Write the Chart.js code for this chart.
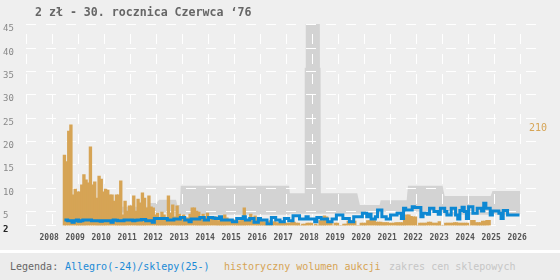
<!DOCTYPE html>
<html>
<head>
<meta charset="utf-8">
<script src="https://cdn.jsdelivr.net/npm/chart.js@4/dist/chart.umd.min.js"></script>
<style>
  html, body { margin: 0; padding: 0; background: #efefef; }
  #wrap { position: relative; width: 560px; height: 280px; overflow: hidden; }
  #title { position: absolute; left: 35px; top: 5px; line-height: 14px;
           font: bold 11.6px "DejaVu Sans Mono", monospace; color: #666; white-space: pre; }
  #legend { position: absolute; left: 0; top: 250px; width: 560px; height: 27px;
            border-top: 3px solid #fff; background: #ececec;
            font: 10px "DejaVu Sans Mono", monospace; }
  #legend span { position: absolute; top: 8px; line-height: 12px; white-space: pre; }
</style>
</head>
<body>
<div id="wrap">
  <canvas id="chart" width="560" height="250"></canvas>
  <div id="title">2 zł - 30. rocznica Czerwca ‘76</div>
  <div id="legend">
    <span style="left:10px;color:#666">Legenda:</span>
    <span style="left:65px;color:#1a8ad6">Allegro(-24)/sklepy(25-)</span>
    <span style="left:224px;color:#d6a455">historyczny wolumen aukcji</span>
    <span style="left:389px;color:#c6c6c6">zakres cen sklepowych</span>
  </div>
</div>
<script>
// ── dane: miesiące od 2008-12 ──
const startYear  = 2008;
const startMonth = 12;

const yearTicks  = [2008, 2009, 2010, 2011, 2012, 2013, 2014, 2015, 2016, 2017,
                    2018, 2019, 2020, 2021, 2022, 2023, 2024, 2025, 2026];
const priceTicks = [2, 5, 10, 15, 20, 25, 30, 35, 40, 45];
const volumeMaxLabel = 210;

// historyczny wolumen aukcji (szt. / miesiąc)
const volume = [
    147,
    133, 197, 210, 64, 76, 70, 70, 85, 106, 95, 89, 164,   // 2009
    85, 91, 57, 103, 97, 70, 76, 74, 64, 64, 51, 64,       // 2010
    64, 93, 22, 51, 30, 41, 41, 62, 30, 55, 47, 68,        // 2011
    57, 37, 62, 39, 37, 22, 26, 16, 28, 22, 16, 62,        // 2012
    26, 43, 18, 41, 24, 17, 22, 16, 16, 24, 37, 37,        // 2013
    30, 28, 16, 24, 18, 26, 16, 18, 12, 18, 10, 12,        // 2014
    10, 22, 16, 10, 8, 12, 10, 8, 10, 12, 37, 10,          // 2015
    12, 24, 10, 20, 12, 8, 10, 8, 6, 8, 10, 6,             // 2016
    8, 6, 5, 6, 5, 5, 5, 5, 7, 7, 5, 5,                    // 2017
    0, 3, 3, 5, 5, 5, 0, 3, 0, 10, 10, 20,                 // 2018
    18, 6, 6, 0, 5, 5, 0, 0, 3, 3, 9, 10,                  // 2019
    8, 9, 0, 0, 5, 5, 5, 10, 10, 10, 10, 7,                // 2020
    7, 7, 6, 6, 6, 5, 5, 5, 6, 6, 6, 6,                    // 2021
    15, 22, 22, 19, 18, 18, 0, 5, 5, 5, 5, 7,              // 2022
    7, 5, 5, 5, 8, 0, 0, 5, 5, 5, 5, 6,                    // 2023
    6, 5, 5, 5, 5, 5, 0, 11, 11, 6, 6, 6,                  // 2024
    9, 9, 11, 11                                           // 2025
];

// cena Allegro (zł)
const allegro = [
    3.2,
    3.2, 3.0, 3.0, 2.7, 3.0, 3.2, 2.9, 3.0, 3.2, 3.2, 3.2, 3.2,       // 2009
    3.0, 3.0, 3.0, 3.0, 2.9, 3.0, 3.0, 3.0, 3.0, 2.7, 3.2, 3.1,       // 2010
    3.0, 3.0, 3.0, 3.2, 3.2, 3.2, 3.2, 3.0, 3.1, 3.2, 3.2, 3.3,       // 2011
    3.3, 3.0, 3.0, 3.0, 2.7, 3.5, 3.5, 3.5, 3.5, 3.5, 3.5, 3.2,       // 2012
    3.2, 3.2, 3.4, 3.4, 3.4, 3.7, 3.7, 3.2, 3.2, 2.8, 3.4, 3.4,       // 2013
    3.4, 3.4, 3.7, 3.7, 3.2, 3.2, 3.7, 3.7, 3.6, 3.5, 3.5, 3.9,       // 2014
    3.2, 3.2, 3.2, 3.2, 3.2, 2.8, 2.8, 3.5, 3.5, 3.5, 3.9, 3.2,       // 2015
    3.2, 3.5, 3.5, 2.7, 2.7, 3.5, 3.2, 3.2, 3.2, 2.3, 2.3, 3.7,       // 2016
    3.7, 3.2, 3.2, 2.8, 2.8, 3.5, 3.5, 3.0, 3.0, 4.1, 4.1, 4.1,       // 2017
    3.4, 3.4, 3.4, 3.9, 3.4, 3.4, 3.4, 2.8, 3.7, 3.7, 3.4, 3.4,       // 2018
    3.4, 2.8, 2.8, 3.4, 3.4, 4.25, 4.25, 4.25, 3.5, 3.5, 3.5, 2.8,    // 2019
    2.8, 3.9, 3.9, 3.9, 3.9, 4.6, 4.6, 3.9, 4.4, 3.4, 3.4, 3.9,       // 2020
    5.3, 5.3, 3.9, 3.9, 3.4, 3.4, 4.25, 4.25, 4.25, 4.6, 4.6, 3.5,    // 2021
    5.7, 5.3, 5.3, 5.3, 6.0, 5.85, 5.85, 5.85, 3.9, 4.6, 4.6, 4.4,    // 2022
    5.7, 5.7, 5.0, 5.0, 4.4, 5.7, 5.7, 5.0, 4.25, 4.25, 5.7, 5.7,     // 2023
    4.25, 3.4, 5.2, 5.9, 5.0, 3.5, 6.0, 6.0, 4.6, 4.6, 5.7, 5.7,      // 2024
    5.1, 6.75, 5.7, 5.7, 4.25, 5.1, 5.1, 5.1, 4.6, 3.5, 5.2, 5.2,     // 2025
    4.25, 4.25, 4.25, 4.25, 4.25, 4.25                                // 2026
];

// zakres cen sklepowych (rok dziesiętny, min, max)
const storeYears = [2011.15, 2012.2, 2012.25, 2012.5, 2012.6, 2013.25, 2013.3, 2013.4, 2013.43,
                    2017.6, 2017.63, 2018.19, 2018.2, 2018.235, 2018.24, 2018.78, 2018.785,
                    2018.81, 2018.82, 2020.22, 2020.32, 2021.08, 2021.12, 2022.12, 2022.17,
                    2023.5, 2023.58, 2025.35, 2025.42, 2026.48];
const storeMin   = [4.8, 4.8, 4.8, 4.8, 4.8, 4.8, 4.8, 4.5, 4.3,
                    4.3, 4.5, 4.5, 4.5, 4.5, 4.5, 4.5, 4.5,
                    4.5, 4.5, 4.5, 4.5, 4.5, 5.0, 5.0, 5.0,
                    5.0, 4.3, 4.3, 4.3, 4.3];
const storeMax   = [6.0, 6.0, 6.8, 6.8, 7.5, 7.5, 6.4, 6.4, 10.5,
                    10.5, 8.9, 8.9, 35.8, 35.8, 50, 50, 35.8,
                    35.8, 8.9, 8.9, 6.4, 6.4, 7.4, 7.4, 10.5,
                    10.5, 8.3, 8.3, 9.4, 9.4];

const FONT   = "'DejaVu Sans Mono', monospace";
const ORANGE = '#d6a455';
const BLUE   = '#0d88d3';
const BAND   = '#d3d3d3';

// środek miesiąca i jako rok dziesiętny
function monthX(i) {
    return startYear + (startMonth - 1 + 0.5 + i) / 12;
}

// siatka jeszcze raz nad pasmem sklepów (ale pod słupkami i linią)
const gridOverBand = {
    id: 'gridOverBand',
    afterDatasetDraw(chart, args) {
        if (args.index !== 3) return;
        chart.scales.x.drawGrid(chart.chartArea);
        chart.scales.y.drawGrid(chart.chartArea);
    }
};

// etykieta maks. wolumenu po prawej
const volumeLabel = {
    id: 'volumeLabel',
    afterDraw(chart) {
        const { ctx, chartArea } = chart;
        const y = chart.scales.yv.getPixelForValue(volumeMaxLabel);
        ctx.save();
        ctx.font = '10px ' + FONT;
        ctx.fillStyle = ORANGE;
        ctx.textAlign = 'right';
        ctx.textBaseline = 'middle';
        ctx.fillText(String(volumeMaxLabel), chartArea.right + 8, y + 4);
        ctx.restore();
    }
};

new Chart(document.getElementById('chart'), {
    type: 'bar',
    data: {
        datasets: [{
            type: 'line',
            label: 'Allegro',
            data: allegro.map((v, i) => ({ x: monthX(i), y: v })),
            borderColor: BLUE,
            borderWidth: 3,
            borderJoinStyle: 'miter',
            pointRadius: 0,
            stepped: 'middle',
            fill: false,
            yAxisID: 'y',
            order: 0
        }, {
            type: 'bar',
            label: 'wolumen',
            data: volume.map((v, i) => ({ x: monthX(i), y: v })),
            backgroundColor: ORANGE,
            borderWidth: 0,
            barThickness: 2.7,      // sąsiednie miesiące bez szpar
            yAxisID: 'yv',
            order: 1
        }, {
            type: 'line',
            label: 'sklepy min',
            data: storeYears.map((x, i) => ({ x, y: storeMin[i] })),
            borderWidth: 0,
            pointRadius: 0,
            fill: false,
            yAxisID: 'y',
            order: 3
        }, {
            type: 'line',
            label: 'sklepy max',
            data: storeYears.map((x, i) => ({ x, y: storeMax[i] })),
            borderWidth: 0,
            pointRadius: 0,
            backgroundColor: BAND,
            fill: '-1',
            yAxisID: 'y',
            order: 2
        }]
    },
    options: {
        responsive: false,
        animation: false,
        events: [],
        layout: { padding: { left: 3, right: 21, top: 24, bottom: 0 } },
        plugins: {
            legend: { display: false },
            tooltip: { enabled: false }
        },
        scales: {
            x: {
                type: 'linear',
                min: 2008,
                max: 2026.69,
                afterBuildTicks: s => { s.ticks = yearTicks.map(v => ({ value: v })); },
                afterFit: s => { s.height = 24.5; },
                ticks: {
                    align: 'start',
                    padding: 8,
                    maxRotation: 0,
                    autoSkip: false,
                    color: '#555',
                    font: { family: FONT, size: 8, weight: 'bold' },
                    callback: v => String(v)
                },
                grid: { color: '#fff', lineWidth: 1, drawTicks: false },
                border: { display: false, dash: [10, 10], dashOffset: 10 }
            },
            y: {
                type: 'linear',
                min: 2,
                max: 45.2,
                afterBuildTicks: s => { s.ticks = priceTicks.map(v => ({ value: v })); },
                afterFit: s => { s.width = 23; },
                ticks: {
                    crossAlign: 'far',
                    labelOffset: 4,
                    color: c => c.tick && c.tick.value === 2 ? '#222' : '#888',
                    font: c => ({ family: FONT, size: 9,
                                  weight: c.tick && c.tick.value === 2 ? 'bold' : 'normal' }),
                    callback: v => String(v)
                },
                grid: { color: '#fff', lineWidth: 1, drawTicks: false },
                border: { display: false, dash: [10, 10], dashOffset: 0 }
            },
            yv: {
                type: 'linear',
                display: false,
                min: 0,
                max: 420
            }
        }
    },
    plugins: [gridOverBand, volumeLabel]
});
</script>
</body>
</html>
